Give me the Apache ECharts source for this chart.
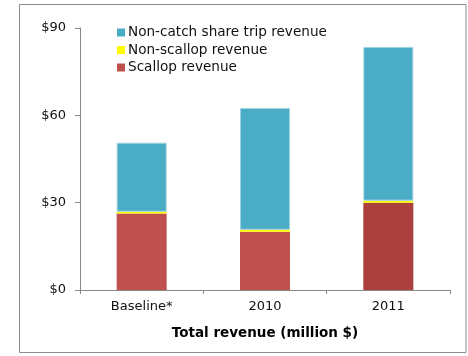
<!DOCTYPE html>
<html>
<head>
<meta charset="utf-8">
<script src="https://cdn.jsdelivr.net/npm/echarts@6/dist/echarts.min.js"></script>
<style>
  html, body { margin: 0; padding: 0; background: #fff; }
  #chart { width: 468px; height: 356px; }
</style>
</head>
<body>
<div id="chart"></div>
<script>
// Revenue categories and stacked components (million $)
const categories = ['Baseline*', '2010', '2011'];
const scallopRevenue = [26.3, 20.0, 30.0];
const nonScallopRevenue = [0.6, 0.7, 0.7];
const nonCatchShareRevenue = [23.7, 41.8, 52.8];
const yTicks = [0, 30, 60, 90];

const FONT = 'DejaVu Sans, Verdana, sans-serif';
const scallopColors = ['#C0504D', '#C0504D', '#AB403E'];

const chart = echarts.init(document.getElementById('chart'), null, { renderer: 'canvas' });

chart.setOption({
  animation: false,
  backgroundColor: '#fff',
  graphic: [{
    type: 'rect',
    shape: { x: 19.5, y: 4.5, width: 446.5, height: 348 },
    style: { fill: 'none', stroke: '#8c8c8c', lineWidth: 1 },
    silent: true
  }],
  grid: { left: 80, right: 18, top: 28, bottom: 66 },
  legend: {
    data: ['Non-catch share trip revenue', 'Non-scallop revenue', 'Scallop revenue'],
    orient: 'vertical',
    left: 117,
    top: 24,
    padding: 0,
    itemWidth: 8,
    itemHeight: 8,
    itemGap: 0.5,
    icon: 'rect',
    itemStyle: { borderWidth: 0 },
    textStyle: { fontFamily: FONT, fontSize: 13.6, lineHeight: 17, color: '#111', padding: [0, 0, 0, -2] }
  },
  xAxis: {
    type: 'category',
    data: categories,
    axisLine: { lineStyle: { color: '#888', width: 1 } },
    axisTick: { show: true, length: 4, lineStyle: { color: '#888' } },
    axisLabel: { fontFamily: FONT, fontSize: 13, color: '#111', margin: 10 },
    name: 'Total revenue (million $)',
    nameLocation: 'middle',
    nameGap: 36,
    nameTextStyle: { fontFamily: FONT, fontSize: 13.5, fontWeight: 'bold', color: '#000' }
  },
  yAxis: {
    type: 'value',
    min: yTicks[0],
    max: yTicks[yTicks.length - 1],
    interval: yTicks[1] - yTicks[0],
    axisLine: { show: true, lineStyle: { color: '#888', width: 1 } },
    axisTick: { show: true, length: 5, lineStyle: { color: '#888' } },
    splitLine: { show: false },
    axisLabel: {
      fontFamily: FONT, fontSize: 13, color: '#111', margin: 14,
      formatter: v => '$' + v
    }
  },
  series: [
    {
      name: 'Scallop revenue',
      type: 'bar',
      stack: 'rev',
      barWidth: 50,
      itemStyle: { color: '#C0504D' },
      data: scallopRevenue.map((v, i) => ({ value: v, itemStyle: { color: scallopColors[i] } }))
    },
    {
      name: 'Non-scallop revenue',
      type: 'bar',
      stack: 'rev',
      barWidth: 50,
      itemStyle: { color: '#FFFF00' },
      data: nonScallopRevenue
    },
    {
      name: 'Non-catch share trip revenue',
      type: 'bar',
      stack: 'rev',
      barWidth: 50,
      itemStyle: { color: '#4BACC6', borderColor: '#9ed2e0', borderWidth: 1 },
      data: nonCatchShareRevenue
    }
  ]
});
</script>
</body>
</html>
